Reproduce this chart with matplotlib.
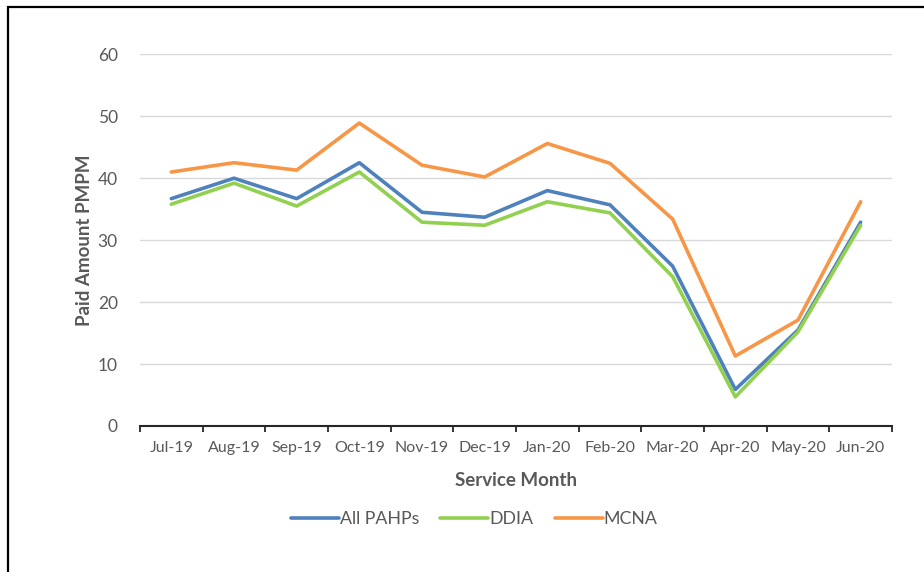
import matplotlib
matplotlib.use("Agg")
import matplotlib.pyplot as plt
from matplotlib.ticker import FixedLocator
from matplotlib.patches import Rectangle

months = ["Jul-19", "Aug-19", "Sep-19", "Oct-19", "Nov-19", "Dec-19",
          "Jan-20", "Feb-20", "Mar-20", "Apr-20", "May-20", "Jun-20"]
all_pahps = [36.7, 40.0, 36.7, 42.5, 34.5, 33.7, 38.0, 35.7, 25.8, 5.9, 15.5, 32.9]
ddia = [35.8, 39.2, 35.5, 41.0, 32.9, 32.4, 36.2, 34.4, 24.1, 4.7, 15.2, 32.4]
mcna = [41.0, 42.5, 41.3, 48.9, 42.1, 40.2, 45.6, 42.4, 33.4, 11.3, 17.1, 36.2]
yticks = [0, 10, 20, 30, 40, 50, 60]

plt.rcParams['font.family'] = ['Lato', 'DejaVu Sans']
txt = '#595959'

fig = plt.figure(figsize=(9.24, 5.72), dpi=100)
ax = fig.add_axes([140/924, 1-426/572, (892-140)/924, (426-54.3)/572])

x = list(range(len(months)))
ax.plot(x, all_pahps, color='#4F81BD', lw=2.6, label='All PAHPs', solid_capstyle='round')
ax.plot(x, ddia, color='#92D050', lw=2.6, label='DDIA', solid_capstyle='round')
ax.plot(x, mcna, color='#F79646', lw=2.6, label='MCNA', solid_capstyle='round')

ax.set_xlim(-0.5, len(months) - 0.5)
ax.set_ylim(0, 60)
ax.set_yticks(yticks)
ax.set_xticks(x)
ax.set_xticklabels(months)
ax.xaxis.set_minor_locator(FixedLocator([i - 0.5 for i in range(len(months) + 1)]))
ax.tick_params(axis='x', which='major', length=0, pad=11, labelsize=11.5, labelcolor=txt)
ax.tick_params(axis='x', which='minor', length=4, width=1.3, color='#262626', direction='out')
ax.tick_params(axis='y', length=0, pad=16, labelsize=12.5, labelcolor=txt)

ax.grid(axis='y', color='#d9d9d9', lw=1)
ax.set_axisbelow(True)
for s in ['top', 'right', 'left']:
    ax.spines[s].set_visible(False)
ax.spines['bottom'].set_color('#262626')
ax.spines['bottom'].set_linewidth(1.5)

ax.set_ylabel('Paid Amount PMPM', fontsize=13.5, fontweight='bold', color=txt, labelpad=3)
ax.set_xlabel('Service Month', fontsize=13.5, fontweight='bold', color=txt, labelpad=12)

fig.legend(loc='center', bbox_to_anchor=(474/924, 1-519/572), ncol=3, frameon=False,
           fontsize=12.8, labelcolor=txt, handlelength=2.7, handletextpad=0.05,
           columnspacing=1.2)

# outer chart border (left and top only visible in reference)
fig.add_artist(Rectangle((8/924, -0.1), 1.2, 1.1 - 7/572, transform=fig.transFigure,
                         fill=False, edgecolor='black', lw=1.6))

fig.savefig('out.png', dpi=100)
